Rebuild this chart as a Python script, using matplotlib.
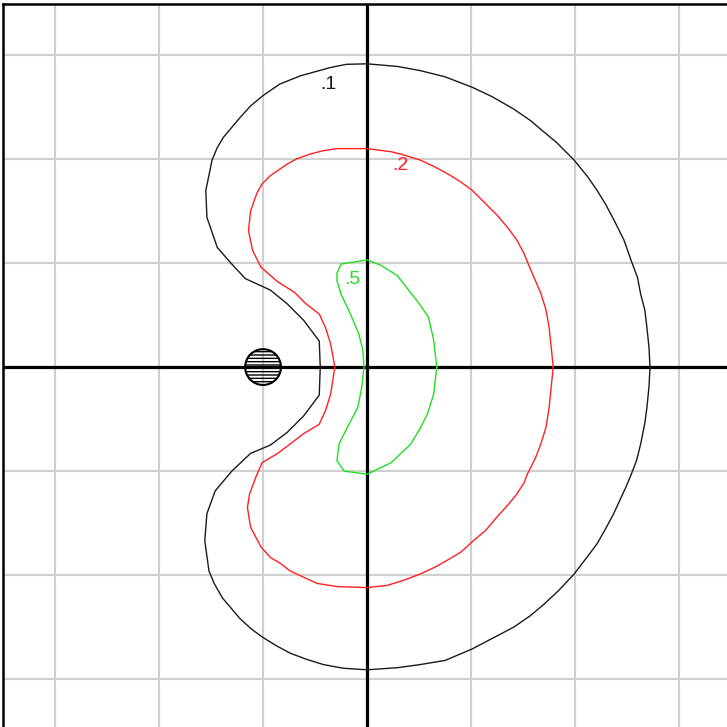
import matplotlib
matplotlib.use("Agg")
import matplotlib.pyplot as plt
from matplotlib.patches import Circle

# contour levels and their labels
levels = [".1", ".2", ".5"]
level_colors = ["#1a1a1a", "#ff2020", "#20e020"]
label_x = [-0.37, 0.32, -0.14]
label_y = [2.72, 1.94, 0.84]

# .1 contour (counter-clockwise from the right)
c1_x = [2.72, 2.71, 2.69, 2.67, 2.63, 2.60, 2.54, 2.47, 2.37, 2.29, 2.21, 2.12,
        1.99, 1.82, 1.70, 1.57, 1.41, 1.20, 1.01, 0.75, 0.51, 0.29, 0.0,
        -0.20, -0.35, -0.64, -0.84, -1.0, -1.12, -1.22, -1.38, -1.44, -1.49,
        -1.55, -1.54, -1.44, -1.31, -1.17, -0.93, -0.77, -0.61, -0.46, -0.45,
        -0.46, -0.61, -0.77, -0.93, -1.12, -1.30, -1.46, -1.54, -1.56, -1.52,
        -1.47, -1.39, -1.22, -1.11, -1.0, -0.87, -0.74, -0.58, -0.42, -0.23,
        0.0, 0.29, 0.51, 0.75, 1.01, 1.20, 1.41, 1.57, 1.70, 1.84, 1.99, 2.12,
        2.21, 2.29, 2.37, 2.43, 2.49, 2.54, 2.59, 2.63, 2.67, 2.69, 2.71, 2.72]
c1_y = [0.0, 0.19, 0.38, 0.55, 0.70, 0.86, 1.02, 1.22, 1.42, 1.57, 1.70, 1.83,
        1.99, 2.16, 2.26, 2.37, 2.48, 2.60, 2.69, 2.79, 2.85, 2.89, 2.915,
        2.91, 2.88, 2.80, 2.72, 2.61, 2.51, 2.40, 2.21, 2.11, 1.99,
        1.70, 1.44, 1.15, 1.00, 0.85, 0.74, 0.61, 0.45, 0.25, 0.0,
        -0.27, -0.47, -0.63, -0.75, -0.83, -1.0, -1.19, -1.41, -1.67, -1.96,
        -2.08, -2.22, -2.42, -2.52, -2.60, -2.68, -2.75, -2.81, -2.86, -2.895,
        -2.91, -2.89, -2.86, -2.82, -2.71, -2.61, -2.50, -2.39, -2.28, -2.15,
        -1.99, -1.82, -1.70, -1.56, -1.41, -1.28, -1.15, -1.03, -0.90, -0.74,
        -0.54, -0.39, -0.19, 0.0]

# .2 contour
c2_x = [1.79, 1.77, 1.75, 1.72, 1.67, 1.55, 1.51, 1.44, 1.36, 1.25, 1.14,
        1.01, 0.90, 0.77, 0.64, 0.51, 0.35, 0.23, 0.0, -0.16, -0.29, -0.42,
        -0.54, -0.68, -0.77, -0.93, -1.01, -1.06, -1.12, -1.14, -1.10, -1.02,
        -0.86, -0.70, -0.59, -0.46, -0.40, -0.35, -0.31, -0.35, -0.40, -0.46,
        -0.61, -0.74, -0.86, -1.01, -1.07, -1.13, -1.15, -1.12, -1.02, -0.93,
        -0.83, -0.74, -0.61, -0.48, -0.29, 0.0, 0.19, 0.35, 0.51, 0.66, 0.80,
        0.90, 1.01, 1.14, 1.25, 1.35, 1.44, 1.51, 1.54, 1.62, 1.67, 1.72, 1.75,
        1.77, 1.79]
c2_y = [0.0, 0.19, 0.38, 0.55, 0.71, 0.99, 1.09, 1.22, 1.33, 1.46, 1.57,
        1.70, 1.78, 1.86, 1.93, 1.99, 2.04, 2.07, 2.10, 2.10, 2.10, 2.08,
        2.05, 2.00, 1.95, 1.84, 1.76, 1.67, 1.50, 1.31, 1.12, 0.96,
        0.82, 0.72, 0.61, 0.51, 0.38, 0.22, 0.0, -0.26, -0.42, -0.55,
        -0.64, -0.74, -0.83, -0.92, -1.06, -1.22, -1.35, -1.54, -1.73, -1.83,
        -1.89, -1.96, -2.02, -2.08, -2.11, -2.12, -2.10, -2.05, -1.99, -1.92,
        -1.84, -1.78, -1.68, -1.57, -1.44, -1.33, -1.22, -1.11, -1.03, -0.87,
        -0.74, -0.58, -0.39, -0.19, 0.0]

# .5 contour
c5_x = [0.67, 0.64, 0.59, 0.50, 0.29, 0.13, 0.0, -0.25, -0.29, -0.29, -0.25,
        -0.16, -0.08, -0.04, -0.03, -0.05, -0.09, -0.19, -0.27, -0.29, -0.22,
        0.0, 0.23, 0.42, 0.51, 0.58, 0.64, 0.67]
c5_y = [0.0, 0.26, 0.48, 0.61, 0.88, 0.98, 1.03, 0.99, 0.90, 0.83, 0.70,
        0.51, 0.32, 0.16, 0.0, -0.19, -0.39, -0.58, -0.74, -0.90, -1.0,
        -1.03, -0.92, -0.74, -0.59, -0.45, -0.26, 0.0]

# shaded obstacle
obstacle_x, obstacle_y, obstacle_r = -1.0, 0.0, 0.172

grid_ticks = [-3, -2, -1, 0, 1, 2, 3]


def main():
    fig = plt.figure(figsize=(7.27, 7.27), dpi=100)
    fig.patch.set_facecolor("white")
    ax = fig.add_axes([3 / 727, 0, 1 - 3 / 727, 1 - 4 / 727])
    ax.set_xlim(-3.5, 3.46)
    ax.set_ylim(-3.46, 3.49)

    for t in grid_ticks:
        ax.axvline(t, color="#cfcfcf", lw=1.5, zorder=0)
        ax.axhline(t, color="#cfcfcf", lw=1.5, zorder=0)
    ax.axvline(0, color="black", lw=2.3, zorder=1)
    ax.axhline(0, color="black", lw=2.3, zorder=1)

    curves = [(c1_x, c1_y), (c2_x, c2_y), (c5_x, c5_y)]
    for (xs, ys), col in zip(curves, level_colors):
        ax.plot(xs, ys, color=col, lw=1.0, zorder=3)

    for lab, lx, ly, col in zip(levels, label_x, label_y, level_colors):
        ax.text(lx, ly, lab, color=col, fontsize=14, family="Liberation Sans",
                ha="center", va="center", zorder=4)

    ax.add_patch(Circle((obstacle_x, obstacle_y), obstacle_r, fill=False,
                        edgecolor="black", lw=1.5, hatch="-----", zorder=2))

    ax.set_xticks([])
    ax.set_yticks([])
    ax.spines["right"].set_visible(False)
    ax.spines["bottom"].set_visible(False)
    ax.spines["left"].set_linewidth(1.8)
    ax.spines["top"].set_linewidth(1.8)

    fig.savefig("out.png", dpi=100)


if __name__ == "__main__":
    main()
